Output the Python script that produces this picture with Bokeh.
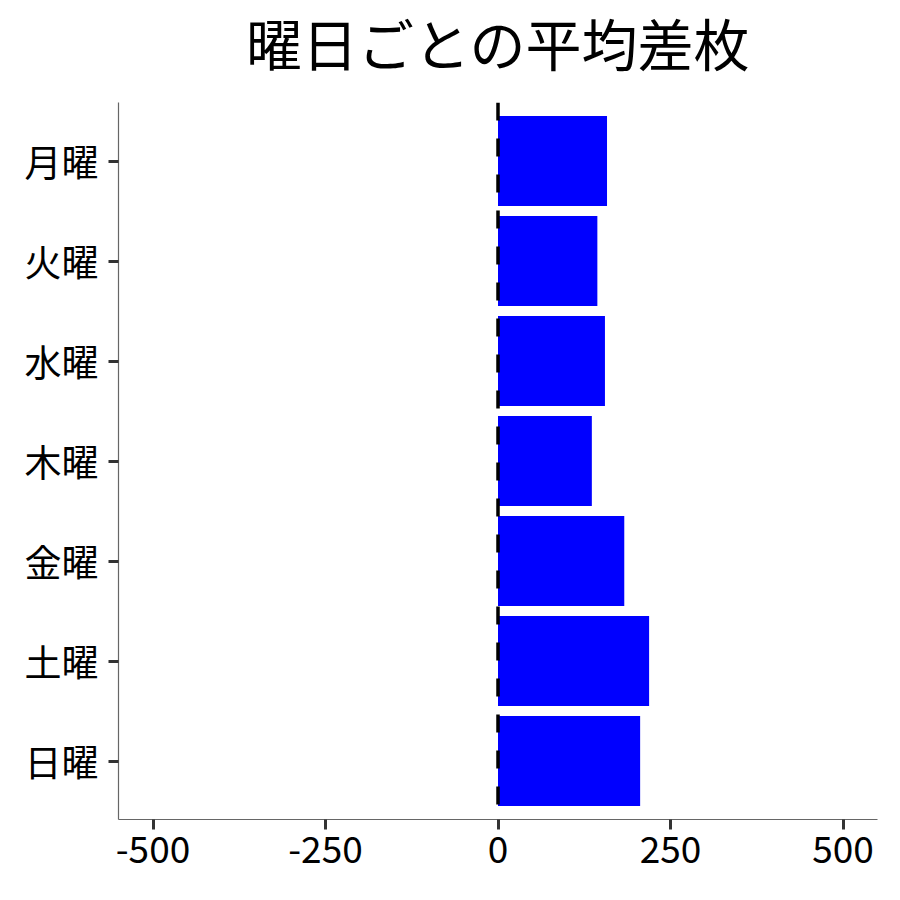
from bokeh.plotting import figure
from bokeh.models import FactorRange, Span, FixedTicker, Label
from bokeh.embed import file_html
from bokeh.resources import INLINE

title_text = "曜日ごとの平均差枚"
days = ["月曜", "火曜", "水曜", "木曜", "金曜", "土曜", "日曜"]
avg_diff = [158, 144, 155, 136, 183, 219, 206]
x_ticks = [-500, -250, 0, 250, 500]
x_tick_labels = ["-500", "-250", "0", "250", "500"]

FONT = "Noto Sans CJK JP"

yr = FactorRange(factors=list(reversed(days)), range_padding=0.085, range_padding_units="absolute")
p = figure(width=892, height=892, y_range=yr, x_range=(-550, 550),
           output_backend="svg", toolbar_location=None,
           min_border_left=118, min_border_right=15, min_border_top=102, min_border_bottom=73)

p.hbar(y=days, right=avg_diff, left=0, height=0.9, color="#0000ff", line_color=None)

span = Span(location=0, dimension="height", line_color="black", line_width=3.5, line_dash="18 18")
p.add_layout(span)

# title: a label in the panel above the frame, centred on x = 0
title = Label(x=0, y=61, x_units="data", y_units="screen", text=title_text,
              text_font=FONT, text_font_size="56px", text_color="black",
              text_align="center", text_baseline="alphabetic")
p.add_layout(title, "above")

p.xaxis.ticker = FixedTicker(ticks=x_ticks)
p.xaxis.major_label_overrides = {t: s for t, s in zip(x_ticks, x_tick_labels)}
p.xgrid.visible = False
p.ygrid.visible = False
p.outline_line_color = None

for ax in (p.xaxis, p.yaxis):
    ax.axis_line_color = "#666666"
    ax.axis_line_width = 1.2
    ax.major_tick_line_color = "#333333"
    ax.major_tick_line_width = 3
    ax.major_tick_out = 10
    ax.major_tick_in = 0
    ax.minor_tick_line_color = None
    ax.major_label_text_font = FONT
    ax.major_label_text_font_size = "37px"
    ax.major_label_text_color = "black"

p.yaxis.major_label_standoff = 10
p.xaxis.major_label_standoff = 6

open("out.html", "w").write(file_html(p, INLINE))
